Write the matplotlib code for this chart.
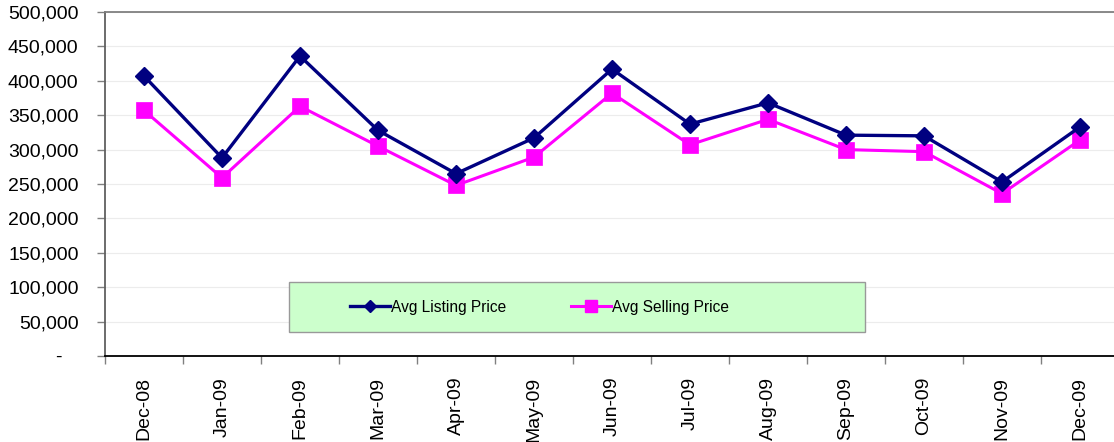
"""
Avg listing vs avg selling price, Dec-08 to Dec-09.
"""

import matplotlib
matplotlib.use("Agg")
import matplotlib.pyplot as plt
from matplotlib.lines import Line2D
from matplotlib.patches import Rectangle
from matplotlib.ticker import FuncFormatter, FixedLocator

months = ["Dec-08", "Jan-09", "Feb-09", "Mar-09", "Apr-09", "May-09", "Jun-09",
          "Jul-09", "Aug-09", "Sep-09", "Oct-09", "Nov-09", "Dec-09"]
listing_price = [407000, 288000, 436000, 328000, 265000, 317000, 417000,
                 337000, 368000, 321000, 320000, 253000, 333000]
selling_price = [357000, 259000, 363000, 305000, 248000, 289000, 382000,
                 307000, 344000, 300000, 297000, 236000, 314000]

NAVY = "#000080"
MAGENTA = "#FF00FF"

plt.rcParams["font.family"] = ["Liberation Sans", "DejaVu Sans"]

fig = plt.figure(figsize=(11.14, 4.42), dpi=100)
ax = fig.add_axes([105 / 1114, 86 / 442, 1014 / 1114, 344 / 442])

x = list(range(len(months)))
ax.plot(x, listing_price, color=NAVY, lw=2.4, marker="D", ms=9, mew=1,
        mec=NAVY, mfc=NAVY, zorder=4)
ax.plot(x, selling_price, color=MAGENTA, lw=2.2, marker="s", ms=11, mew=0.5,
        mec=MAGENTA, mfc=MAGENTA, zorder=3)

ax.set_xlim(-0.5, len(months) - 0.5)
ax.set_ylim(0, 500000)

# y axis: Excel style number format, "-" for zero
def fmt(v, pos):
    if v == 0:
        return "-   "
    return f"{int(v):,}"

ax.yaxis.set_major_locator(FixedLocator(range(0, 500001, 50000)))
ax.yaxis.set_major_formatter(FuncFormatter(fmt))
ax.tick_params(axis="y", direction="out", length=6, width=1, color="#808080",
               pad=13, labelsize=14)
ax.grid(axis="y", color="#ececec", lw=0.8)
ax.set_axisbelow(True)

# x axis: labels at centers, ticks at category boundaries
ax.set_xticks(x)
ax.set_xticklabels(months, rotation=90, va="top", ha="center")
ax.tick_params(axis="x", which="major", length=0, pad=15, labelsize=14)
ax.set_xticks([i - 0.5 for i in range(len(months) + 1)], minor=True)
ax.tick_params(axis="x", which="minor", direction="out", length=6, width=1,
               color="#808080")

ax.spines["top"].set_color("#808080")
ax.spines["top"].set_linewidth(1.3)
ax.spines["left"].set_color("#606060")
ax.spines["left"].set_linewidth(1.3)
ax.spines["bottom"].set_color("black")
ax.spines["bottom"].set_linewidth(1.3)
ax.spines["right"].set_visible(False)

# legend background box
ax.add_patch(Rectangle((0.1815, 0.0698), 0.568, 0.1453, transform=ax.transAxes,
                       facecolor="#CCFFCC", edgecolor="#999999", lw=1,
                       zorder=5, clip_on=False))

handles = [
    Line2D([], [], color=NAVY, lw=2.4, marker="D", ms=6, mfc=NAVY, mec=NAVY),
    Line2D([], [], color=MAGENTA, lw=2.2, marker="s", ms=8, mfc=MAGENTA, mec=MAGENTA),
]
leg = ax.legend(handles, ["Avg Listing Price", "Avg Selling Price"], ncol=2,
                loc="center left", bbox_to_anchor=(0.2416, 0.1424),
                frameon=False, fontsize=11.2, handlelength=2.6, handletextpad=0.05,
                columnspacing=4.15, borderpad=0, borderaxespad=0)
leg.set_zorder(6)

fig.savefig("out.png", dpi=100)
